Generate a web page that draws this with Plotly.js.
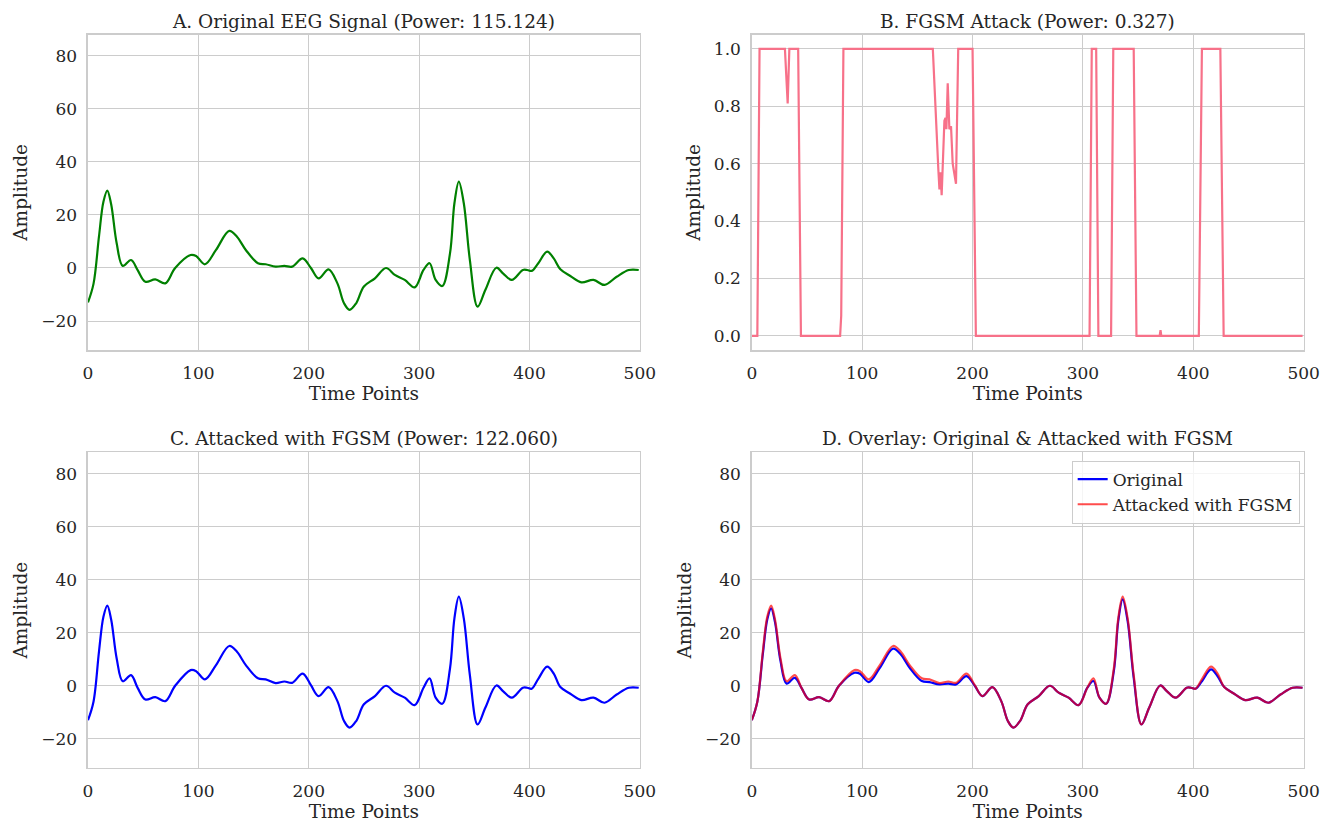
<!DOCTYPE html>
<html>
<head>
<meta charset="utf-8">
<script src="https://cdn.plot.ly/plotly-3.0.1.min.js"></script>
<style>html,body{margin:0;padding:0;background:#fff;}#chart{width:1333px;height:824px;}</style>
</head>
<body>
<div id="chart"></div>
<script>
// Sample times (time points)
const timePoints = [0, 5, 10, 14, 17.5, 21, 26, 31.5, 39, 45, 52, 61, 70, 79, 93, 98, 106, 116, 128, 135, 143, 154, 161, 170, 178, 185, 194.5, 202, 209, 218, 226, 232, 237, 243, 250, 260, 270, 278, 287, 296, 304, 309.5, 315, 321, 328, 332, 336, 340.5, 346, 353, 360, 370, 376, 384, 394, 398, 402, 408, 416, 422, 428, 437, 447, 458, 468, 479, 490, 499];
// Original EEG amplitude
const originalSignal = [-13, -6, 12, 25, 29.2, 24, 9.3, 0.8, 3.0, -0.8, -5.2, -4.3, -5.8, 0, 4.9, 4.5, 1.4, 6.8, 14, 11.8, 6.8, 1.8, 1.4, 0.5, 0.8, 0.5, 3.6, 0, -3.9, -0.5, -5.8, -13.3, -15.8, -13.3, -7, -3.9, 0, -2.6, -4.5, -7.3, -0.75, 1.8, -4.5, -6.8, 5.5, 24.4, 32.6, 24.4, 3, -14.6, -8.3, 0.1, -2, -4.5, -0.75, -0.75, -1.1, 1.8, 6.2, 3.6, -0.5, -3, -5.4, -4.5, -6.4, -3.3, -0.75, -0.75];
// Attacked (FGSM) amplitude
const attackedSignal = [-13, -6, 13, 26, 30.2, 25, 10.3, 1.7, 4.0, -0.8, -5.2, -4.3, -5.8, 0, 5.9, 5.5, 2.4, 7.8, 15, 12.8, 7.8, 2.8, 2.4, 1.0, 1.6, 1.1, 4.6, 0.2, -3.9, -0.5, -5.8, -13.3, -15.8, -13.3, -7, -3.9, 0, -2.6, -4.5, -7.3, -0.75, 2.8, -4.5, -6.8, 6.5, 25.4, 33.6, 25.4, 4, -14.6, -8.3, 0.1, -2, -4.5, -0.75, -0.75, -1.1, 2.6, 7.2, 4.6, -0.5, -3, -5.4, -4.5, -6.4, -3.3, -0.75, -0.75];
// FGSM perturbation
const perturbT = [0, 5, 7, 30, 32.5, 34, 42, 44.5, 80, 81, 83, 164, 169, 170, 171, 172, 174.5, 175.5, 176.3, 177.5, 179, 180.5, 182, 185, 187, 200, 203, 306, 308, 312, 314, 325.5, 327.5, 346, 348.5, 369.5, 370.3, 371, 405, 407.8, 424.5, 427.5, 499];
const perturbV = [0, 0, 1, 1, 0.81, 1, 1, 0, 0, 0.07, 1, 1, 0.58, 0.51, 0.57, 0.49, 0.75, 0.76, 0.72, 0.88, 0.72, 0.73, 0.60, 0.53, 1, 1, 0, 0, 1, 1, 0, 0, 1, 1, 0, 0, 0.02, 0, 0, 1, 1, 0, 0];

const xTicks = [0, 100, 200, 300, 400, 500];
const ampTicks = [-20, 0, 20, 40, 60, 80];
const pertTicks = [0, 0.2, 0.4, 0.6, 0.8, 1.0];

const titles = [
  "A. Original EEG Signal (Power: 115.124)",
  "B. FGSM Attack (Power: 0.327)",
  "C. Attacked with FGSM (Power: 122.060)",
  "D. Overlay: Original & Attacked with FGSM"
];

const FONT = "DejaVu Serif, Liberation Serif, serif";
const TXT = "#262626";
const GRID = "#cccccc";

const traces = [
  {x: timePoints, y: originalSignal, type: "scatter", mode: "lines", line: {color: "#008000", width: 2.2, shape: "spline", smoothing: 1}, xaxis: "x", yaxis: "y", showlegend: false},
  {x: perturbT, y: perturbV, type: "scatter", mode: "lines", line: {color: "#f77189", width: 2.2}, xaxis: "x2", yaxis: "y2", showlegend: false},
  {x: timePoints, y: attackedSignal, type: "scatter", mode: "lines", line: {color: "#0000ff", width: 2.2, shape: "spline", smoothing: 1}, xaxis: "x3", yaxis: "y3", showlegend: false},
  {x: timePoints, y: originalSignal, type: "scatter", mode: "lines", name: "Original", line: {color: "#0000ff", width: 2.2, shape: "spline", smoothing: 1}, xaxis: "x4", yaxis: "y4"},
  {x: timePoints, y: attackedSignal, type: "scatter", mode: "lines", name: "Attacked with FGSM", opacity: 0.7, line: {color: "#ff0000", width: 2.2, shape: "spline", smoothing: 1}, xaxis: "x4", yaxis: "y4"}
];

function xax(domain, anchor) {
  return {domain: domain, anchor: anchor, range: [0, 500], tickvals: xTicks, ticks: "",
    ticklabelstandoff: 7,
    showgrid: true, gridcolor: GRID, gridwidth: 1, zeroline: false, showline: true, mirror: true,
    linecolor: GRID, linewidth: 1.5, tickfont: {family: FONT, size: 17, color: TXT},
    title: {text: "Time Points", font: {family: FONT, size: 18.5, color: TXT}, standoff: 4}};
}
function yax(domain, anchor, pert) {
  return {domain: domain, anchor: anchor, range: pert ? [-0.05, 1.05] : [-31, 88],
    tickvals: pert ? pertTicks : ampTicks, tickformat: pert ? ".1f" : "", ticks: "",
    ticklabelstandoff: 6,
    showgrid: true, gridcolor: GRID, gridwidth: 1, zeroline: false, showline: true, mirror: true,
    linecolor: GRID, linewidth: 1.5, tickfont: {family: FONT, size: 17, color: TXT},
    title: {text: "Amplitude", font: {family: FONT, size: 18.5, color: TXT}, standoff: 8}};
}

const colL = [0.066, 0.480], colR = [0.564, 0.978];
const rowT = [0.575, 0.958], rowB = [0.068, 0.451];

const annotations = [
  [colL, rowT], [colR, rowT], [colL, rowB], [colR, rowB]
].map((d, i) => ({
  text: titles[i], xref: "paper", yref: "paper", x: (d[0][0] + d[0][1]) / 2, y: d[1][1],
  xanchor: "center", yanchor: "bottom", yshift: 1, showarrow: false,
  font: {family: FONT, size: 18.5, color: TXT}
}));

const layout = {
  width: 1333, height: 824, margin: {l: 0, r: 0, t: 0, b: 0},
  paper_bgcolor: "#ffffff", plot_bgcolor: "#ffffff",
  font: {family: FONT, color: TXT},
  xaxis: xax(colL, "y"), yaxis: yax(rowT, "x", false),
  xaxis2: xax(colR, "y2"), yaxis2: yax(rowT, "x2", true),
  xaxis3: xax(colL, "y3"), yaxis3: yax(rowB, "x3", false),
  xaxis4: xax(colR, "y4"), yaxis4: yax(rowB, "x4", false),
  annotations: annotations,
  showlegend: true,
  legend: {x: 0.975, y: 0.441, xanchor: "right", yanchor: "top", xref: "paper", yref: "paper",
    bgcolor: "rgba(255,255,255,0.8)", bordercolor: GRID, borderwidth: 1,
    font: {family: FONT, size: 17, color: TXT}, tracegroupgap: 0, itemwidth: 30}
};

Plotly.newPlot("chart", traces, layout, {displayModeBar: false, staticPlot: true});
</script>
</body>
</html>
